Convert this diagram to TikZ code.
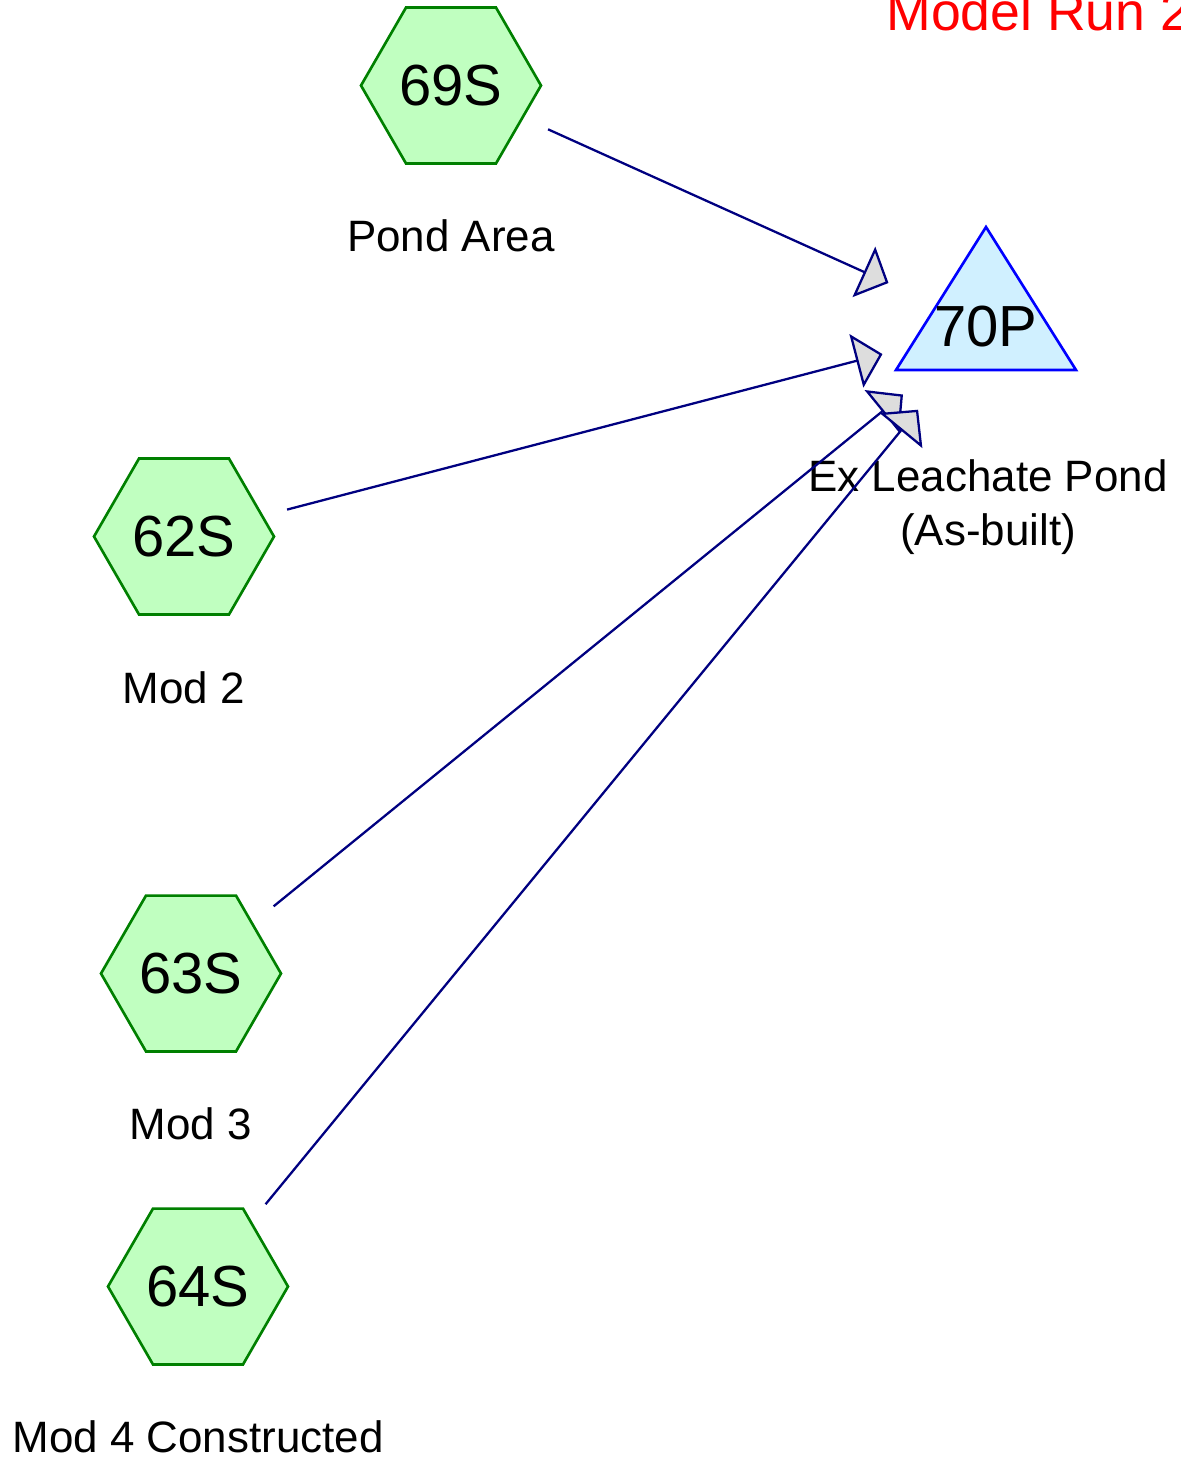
\documentclass[tikz,border=0pt]{standalone}
\usepackage{fontspec}
\setmainfont{Liberation Sans}
\usepackage{tikz}
\usetikzlibrary{
  arrows.meta,
  shapes.geometric
}
\usepackage{xcolor}
\definecolor{subfill}{RGB}{192, 255, 192}
\definecolor{subdraw}{RGB}{0, 128, 0}
\definecolor{pondfill}{RGB}{208, 240, 255}
\definecolor{ponddraw}{RGB}{0, 0, 255}
\definecolor{linkclr}{RGB}{0, 0, 128}
\definecolor{tipfill}{RGB}{221, 221, 221}
\tikzset{
  % Subcatchment hexagons
  hexnode/.style   = {regular polygon, regular polygon sides=6, minimum size=3.6cm,
                      inner sep=0pt, fill=subfill, draw=subdraw, line width=1.5pt,
                      font=\fontsize{33}{38}\selectfont},
  % Pond triangle
  pondtri/.style   = {fill=pondfill, draw=ponddraw, line width=1.5pt, line join=miter},
  pondtext/.style  = {inner sep=0pt, font=\fontsize{33}{38}\selectfont},
  % Labels
  sublabel/.style  = {inner sep=0pt, align=center, font=\fontsize{25}{31}\selectfont},
  titlelab/.style  = {inner sep=0pt, text=red, font=\fontsize{30.5}{36}\selectfont},
  % Links
  flowarrow/.style = {-{Triangle[length=0.54cm, width=1.1cm, fill=tipfill]},
                      draw=linkclr, line width=1.3pt, shorten <=2.13cm, shorten >=2.14cm},
}
\begin{document}
\begin{tikzpicture}
  \useasboundingbox (0,0) rectangle (23.6,-29.2);
  % Title
  \node[titlelab, anchor=base west] (title) at (17.72,-0.6) {Model Run 2};
  % Subcatchments
  \node[hexnode] (s69) at (9.02,-1.71)  {69S};
  \node[hexnode] (s62) at (3.68,-10.73) {62S};
  \node[hexnode] (s63) at (3.82,-19.47) {63S};
  \node[hexnode] (s64) at (3.96,-25.73) {64S};
  \node[sublabel] (l69) at (9.02,-4.72)  {Pond Area};
  \node[sublabel] (l62) at (3.68,-13.76) {Mod 2};
  \node[sublabel] (l63) at (3.82,-22.48) {Mod 3};
  \node[sublabel] (l64) at (3.96,-28.74) {Mod 4 Constructed};
  % Pond
  \draw[pondtri] (19.72,-4.54) -- (21.52,-7.40) -- (17.92,-7.40) -- cycle;
  \node[pondtext] (p70) at (19.72,-6.54) {70P};
  \node[sublabel] (l70) at (19.76,-10.14) {Ex Leachate Pond\\(As-built)};
  % Links
  \draw[flowarrow] (s69.center) -- (p70.center);
  \draw[flowarrow] (s62.center) -- (p70.center);
  \draw[flowarrow] (s63.center) -- (p70.center);
  \draw[flowarrow] (s64.center) -- (p70.center);
\end{tikzpicture}
\end{document}
